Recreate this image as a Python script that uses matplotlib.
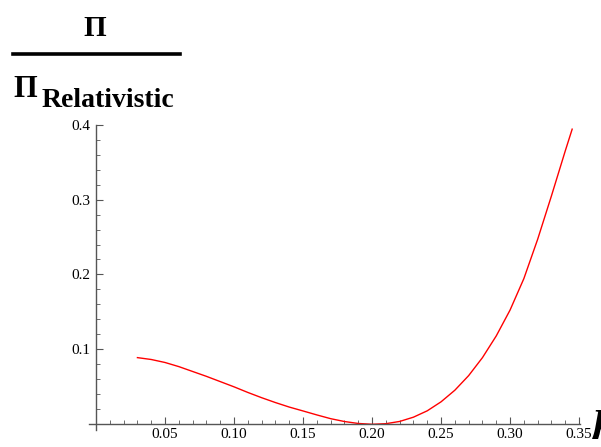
import matplotlib
matplotlib.use("Agg")
import matplotlib.pyplot as plt
from matplotlib.ticker import MultipleLocator, FixedLocator
from matplotlib.lines import Line2D

# values
x_vals = [0.030, 0.040, 0.050, 0.060, 0.070, 0.080, 0.090, 0.100, 0.110, 0.120,
          0.130, 0.140, 0.150, 0.160, 0.170, 0.180, 0.190, 0.200, 0.210, 0.220,
          0.230, 0.240, 0.250, 0.260, 0.270, 0.280, 0.290, 0.300, 0.310, 0.320,
          0.330, 0.340, 0.345]
y_vals = [0.0890, 0.0865, 0.0825, 0.0770, 0.0705, 0.0640, 0.0570, 0.0500, 0.0425, 0.0355,
          0.0290, 0.0230, 0.0178, 0.0125, 0.0075, 0.0037, 0.0011, 0.0000, 0.0008, 0.0038,
          0.0095, 0.0180, 0.0300, 0.0455, 0.0650, 0.0890, 0.1180, 0.1525, 0.1945, 0.2470,
          0.3050, 0.3650, 0.3940]

x_ticks = [0.05, 0.10, 0.15, 0.20, 0.25, 0.30, 0.35]
x_labels = ["0.05", "0.10", "0.15", "0.20", "0.25", "0.30", "0.35"]
y_ticks = [0.1, 0.2, 0.3, 0.4]
y_labels = ["0.1", "0.2", "0.3", "0.4"]

plt.rcParams["font.family"] = ["Liberation Serif", "DejaVu Serif"]

fig = plt.figure(figsize=(6.01, 4.47), dpi=100)
ax = fig.add_axes([0.1483, 0.0374, 0.8175, 0.6837])
ax.plot(x_vals, y_vals, color="#ff0000", lw=1.0)

ax.set_xlim(-0.005, 0.351)
ax.set_ylim(-0.008, 0.4)
axc = "#555555"
for s in ["top", "right"]:
    ax.spines[s].set_visible(False)
ax.spines["left"].set_position(("data", 0))
ax.spines["bottom"].set_position(("data", 0))
ax.spines["left"].set_color(axc)
ax.spines["bottom"].set_color(axc)
ax.spines["left"].set_linewidth(1.0)
ax.spines["bottom"].set_linewidth(1.0)

ax.xaxis.set_major_locator(FixedLocator(x_ticks))
ax.set_xticklabels(x_labels)
ax.xaxis.set_minor_locator(MultipleLocator(0.01))
ax.yaxis.set_major_locator(FixedLocator(y_ticks))
ax.set_yticklabels(y_labels)
ax.yaxis.set_minor_locator(MultipleLocator(0.02))
ax.tick_params(axis="both", which="major", direction="in", length=5, width=0.8,
               color=axc, labelsize=11, pad=4)
ax.tick_params(axis="both", which="minor", direction="in", length=3, width=0.6,
               color=axc)
ax.tick_params(axis="x", which="major", pad=3)

# y label as a fraction
fig.text(95 / 601, 1 - 28 / 447, "Π", fontsize=21, fontweight="bold",
         ha="center", va="center")
fig.add_artist(Line2D([13 / 601, 180 / 601], [1 - 54 / 447, 1 - 54 / 447],
                      color="black", lw=2.6, transform=fig.transFigure))
fig.text(13 / 601, 1 - 97 / 447, "Π", fontsize=22, fontweight="bold",
         ha="left", va="baseline")
fig.text(42 / 601, 1 - 107 / 447, "Relativistic", fontsize=20, fontweight="bold",
         ha="left", va="baseline")

# x label, cut off at the right edge
fig.text(594 / 601, 1 - 430 / 447, "μ", fontsize=32, fontweight="bold",
         style="italic", ha="left", va="baseline")

fig.savefig("out.png", dpi=100)
